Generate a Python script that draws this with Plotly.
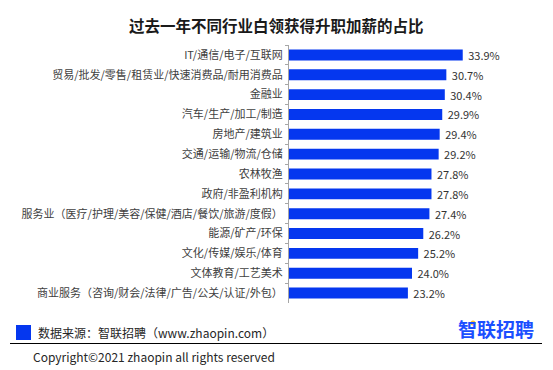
import plotly.graph_objects as go

categories = [
    "IT/通信/电子/互联网",
    "贸易/批发/零售/租赁业/快速消费品/耐用消费品",
    "金融业",
    "汽车/生产/加工/制造",
    "房地产/建筑业",
    "交通/运输/物流/仓储",
    "农林牧渔",
    "政府/非盈利机构",
    "服务业（医疗/护理/美容/保健/酒店/餐饮/旅游/度假）",
    "能源/矿产/环保",
    "文化/传媒/娱乐/体育",
    "文体教育/工艺美术",
    "商业服务（咨询/财会/法律/广告/公关/认证/外包）",
]
values = [33.9, 30.7, 30.4, 29.9, 29.4, 29.2, 27.8, 27.8, 27.4, 26.2, 25.2, 24.0, 23.2]

title_text = "过去一年不同行业白领获得升职加薪的占比"
source_text = "数据来源：智联招聘（www.zhaopin.com）"
logo_text = "智联招聘"
copyright_text = "Copyright©2021 zhaopin all rights reserved"

W, H = 553, 370
L, R, T, B = 289, 59, 45, 67
PW, PH = W - L - R, H - T - B
FONT = "Noto Sans CJK SC, Microsoft YaHei, sans-serif"
BAR = "#0537EF"


def px(x):
    return (x - L) / PW


def py(y):
    return (H - B - y) / PH


fig = go.Figure(
    go.Bar(
        x=values,
        y=categories,
        orientation="h",
        marker=dict(color=BAR, line=dict(width=0)),
        width=0.55,
        texttemplate="\u00a0%{x:.1f}%",
        textposition="outside",
        constraintext="none",
        textfont=dict(size=11, color="#333333", family=FONT),
        cliponaxis=False,
        hoverinfo="skip",
    )
)

fig.update_layout(
    width=W,
    height=H,
    margin=dict(l=L, r=R, t=T, b=B, pad=0),
    paper_bgcolor="white",
    plot_bgcolor="white",
    showlegend=False,
    font=dict(family=FONT, color="#404040"),
    xaxis=dict(range=[0, 40], visible=False, fixedrange=True),
    yaxis=dict(
        autorange="reversed",
        showline=True,
        linecolor="#A6A6A6",
        linewidth=1,
        ticks="outside",
        ticklen=3,
        tickcolor="#A6A6A6",
        tickson="boundaries",
        ticklabelstandoff=3,
        tickfont=dict(size=11, color="#404040", family=FONT),
        showgrid=False,
        zeroline=False,
    ),
    annotations=[
        dict(text="<b>" + title_text + "</b>", x=px(276), y=py(25), xref="paper", yref="paper",
             xanchor="center", yanchor="middle", showarrow=False,
             font=dict(size=15.5, color="#1A1A1A", family=FONT)),
        dict(text=source_text, x=px(36), y=py(332.5), xref="paper", yref="paper",
             xanchor="left", yanchor="middle", showarrow=False,
             font=dict(size=12, color="#262626", family=FONT)),
        dict(text="<b>" + logo_text + "</b>", x=px(456), y=py(328), xref="paper", yref="paper",
             xanchor="left", yanchor="middle", showarrow=False,
             font=dict(size=19, color="#1B4FFF", family=FONT)),
        dict(text=copyright_text, x=px(31), y=py(356), xref="paper", yref="paper",
             xanchor="left", yanchor="middle", showarrow=False,
             font=dict(size=12, color="#262626", family=FONT)),
    ],
    shapes=[
        dict(type="rect", xref="paper", yref="paper", x0=px(16), x1=px(31), y0=py(340), y1=py(325),
             fillcolor=BAR, line=dict(width=0)),
        dict(type="line", xref="paper", yref="paper", x0=px(10), x1=px(542), y0=py(343.5), y1=py(343.5),
             line=dict(color="#000000", width=1)),
        dict(type="circle", xref="paper", yref="paper", x0=px(470.5), x1=px(475.5), y0=py(325.5), y1=py(320.5),
             fillcolor="#FFC629", line=dict(width=0)),
    ],
)

fig.write_html(
    "out.html",
    config={"displayModeBar": False},
    post_script="document.body.style.margin='0';document.body.style.overflow='hidden';",
)
